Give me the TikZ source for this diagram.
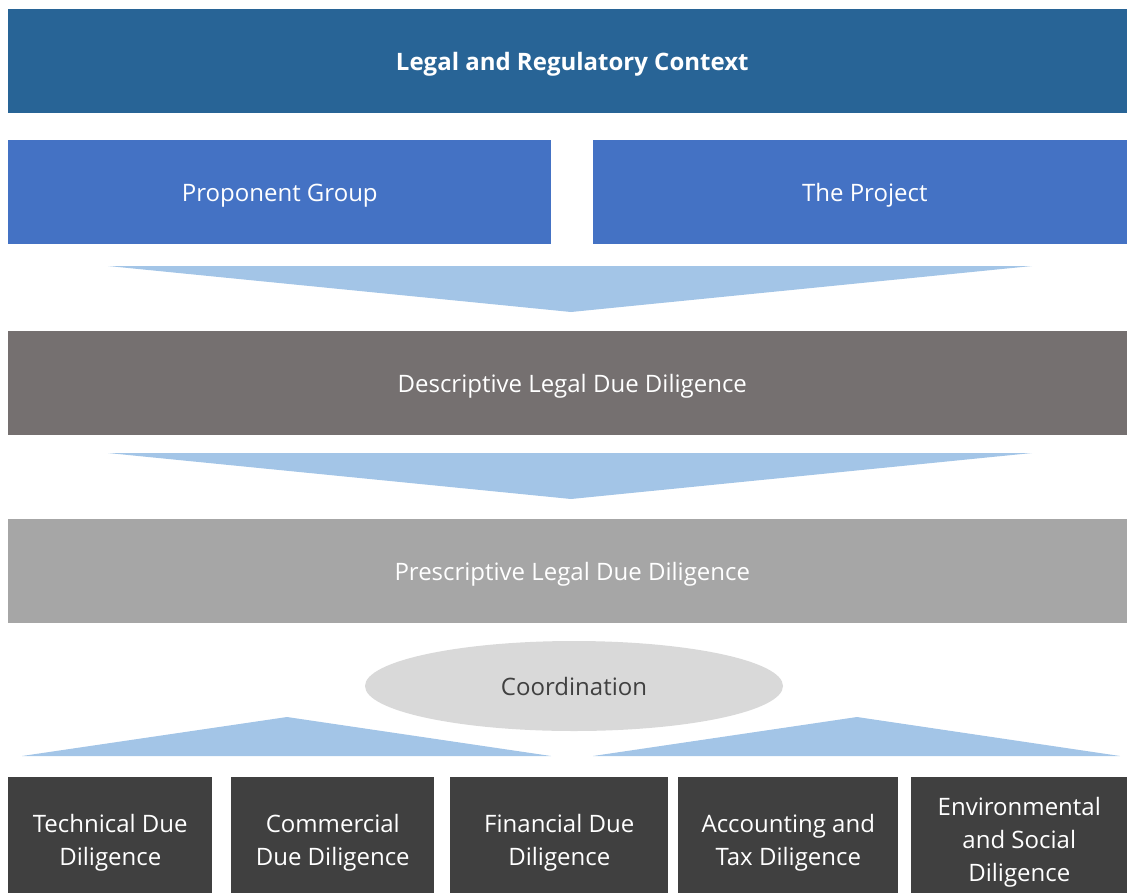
\documentclass[tikz,border=0pt]{standalone}
\usepackage{fontspec}
\setmainfont{Open Sans}
\usetikzlibrary{shapes.geometric}
\definecolor{ctxblue}{HTML}{286496}
\definecolor{midblue}{HTML}{4472C4}
\definecolor{chevron}{HTML}{A3C5E7}
\definecolor{descgray}{HTML}{757070}
\definecolor{presgray}{HTML}{A6A6A6}
\definecolor{coordgray}{HTML}{D9D9D9}
\definecolor{darkbox}{HTML}{404040}
\tikzset{
  bar/.style={anchor=north west, inner sep=0pt, text=white,
    font=\fontsize{18}{24.75}\selectfont, align=center},
  rowbar/.style={bar, minimum height=104*0.75pt, text height=17pt, text depth=3.5pt},
  ddbox/.style={bar, fill=darkbox, minimum height=130*0.75pt},
}
\begin{document}
\begin{tikzpicture}[x=0.75pt, y=-0.75pt, line join=round]
		\useasboundingbox (0,0) rectangle (1127,892);
		\clip (0,0) rectangle (1127,892);
		% rows
		\node[rowbar, fill=ctxblue, minimum width=1128*0.75pt] (ctx) at (8,9) {\bfseries Legal and Regulatory Context};
		\node[rowbar, fill=midblue, minimum width=543*0.75pt] (group) at (8,140) {Proponent Group};
		\node[rowbar, fill=midblue, minimum width=543*0.75pt] (project) at (593,140) {The Project};
		\node[rowbar, fill=descgray, minimum width=1128*0.75pt] (desc) at (8,331) {Descriptive Legal Due Diligence};
		\node[rowbar, fill=presgray, minimum width=1128*0.75pt] (pres) at (8,519) {Prescriptive Legal Due Diligence};
		\node[ellipse, fill=coordgray, text=darkbox, minimum width=418*0.75pt, minimum height=90*0.75pt,
			font=\fontsize{18}{24.75}\selectfont] (coord) at (574,686) {Coordination};
		% chevrons
		\fill[chevron] (108,266)--(1032,266)--(571,312)--cycle;
		\fill[chevron] (108,453)--(1032,453)--(571,499)--cycle;
		\fill[chevron] (22,756)--(287,717)--(551,756)--cycle;
		\fill[chevron] (593,756)--(857,717)--(1120,756)--cycle;
		% due diligence boxes
		\foreach \x/\w/\name/\txt in {8/204/tech/{Technical Due\\Diligence},
			231/203/comm/{Commercial\\Due Diligence},
			450/218/fin/{Financial Due\\Diligence},
			678/220/acc/{Accounting and\\Tax Diligence},
			911/216/env/{Environmental\\and Social\\Diligence}}
		\node[ddbox, minimum width=\w*0.75pt] (\name) at (\x,777) {\txt};
\end{tikzpicture}
\end{document}
